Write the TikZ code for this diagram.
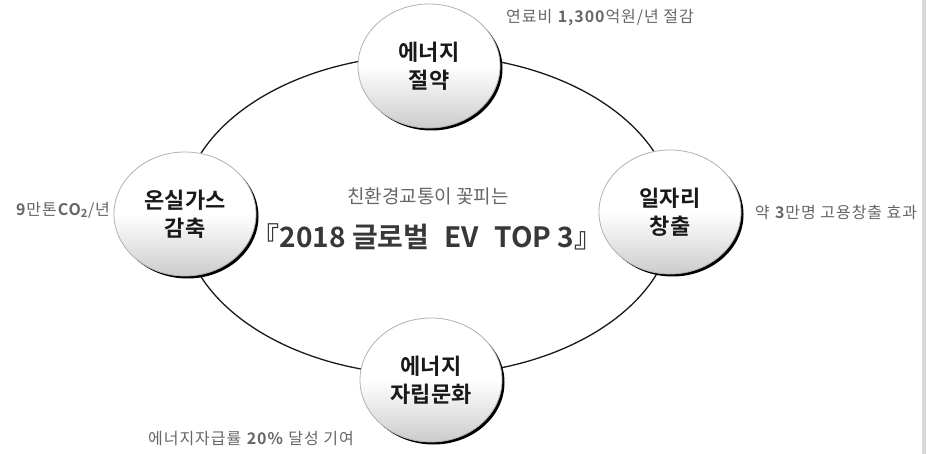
\documentclass[tikz,border=0pt]{standalone}
\usepackage{fontspec}
\setmainfont{Noto Sans CJK KR}[BoldFont={Noto Sans CJK KR Bold}]
\newfontfamily\notefont{Noto Sans CJK KR}[BoldFont={Noto Sans CJK KR Bold},LetterSpace=6]
\usetikzlibrary{shapes.geometric,shadows}
\begin{document}
\begin{tikzpicture}[x=1pt,y=-1pt,
  bubble/.style={ellipse, minimum width=142pt, minimum height=124pt, inner sep=0pt,
    draw=black!30, line width=0.8pt,
    top color=white, bottom color=black!20, middle color=white,
    general shadow={fill=black, shadow xshift=2.5pt, shadow yshift=-2.5pt},
    font=\bfseries\fontsize{22}{28}\selectfont, align=center, text=black!90},
  note/.style={font=\notefont\fontsize{16}{18}\selectfont, text=black!60, inner sep=0pt},
  ring/.style={line width=1.3pt, draw=black!90},
]
\path[use as bounding box] (0,0) rectangle (926,454);
\fill[black!15] (922,0) rectangle (926,454);
\coordinate (c) at (428,215);
\draw[ring] (c) ellipse [x radius=246pt, y radius=160pt];

\node[bubble] (top) at (429,66) {에너지\\절약};
\node[bubble] (left) at (185,214) {온실가스\\감축};
\node[bubble] (right) at (670,212) {일자리\\창출};
\node[bubble] (bottom) at (431,380) {에너지\\자립문화};

\node[font=\fontsize{19}{22}\selectfont, text=black!60] (sub) at (428,196) {친환경교통이 꽃피는};
\node[font=\bfseries\fontsize{28}{30}\selectfont, text=black!78] (title) at (427,237) {『2018 글로벌\hspace{0.55em}EV\hspace{0.55em}TOP 3』};

\node[note] (n1) at (600,18) {연료비 \textbf{1,300}억원/년 절감};
\node[note] (n2) at (63,210) {\textbf{9}만톤\textbf{CO\textsubscript{2}}/년};
\node[note] (n3) at (836,212) {약 \textbf{3}만명 고용창출 효과};
\node[note] (n4) at (251,439) {에너지자급률 \textbf{20\%} 달성 기여};
\end{tikzpicture}
\end{document}
